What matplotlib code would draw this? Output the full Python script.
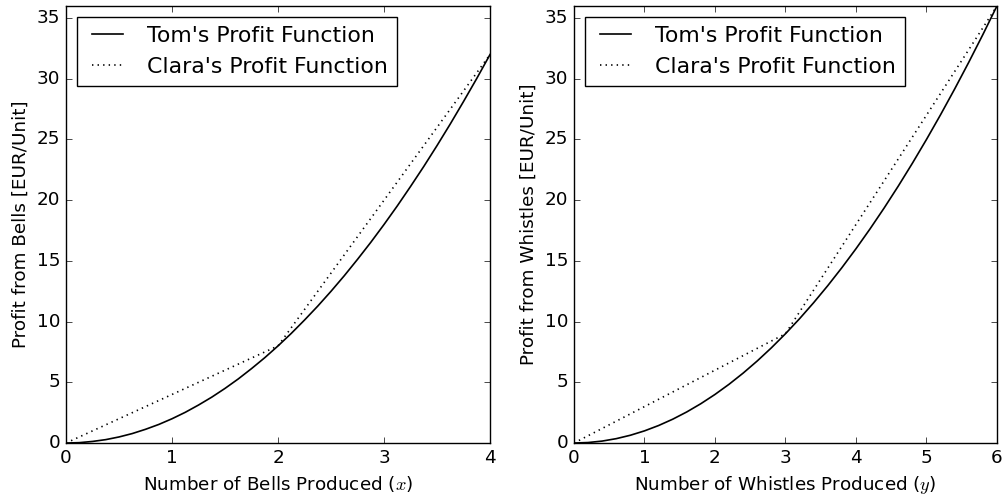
import numpy as np
import matplotlib
matplotlib.use('Agg')
from matplotlib import pyplot as plt
from matplotlib.ticker import MultipleLocator

# Tom's profit from bells
bells_x = [0, 0.125, 0.25, 0.375, 0.5, 0.625, 0.75, 0.875, 1, 1.125, 1.25, 1.375, 1.5, 1.625, 1.75, 1.875, 2,
           2.125, 2.25, 2.375, 2.5, 2.625, 2.75, 2.875, 3, 3.125, 3.25, 3.375, 3.5, 3.625, 3.75, 3.875, 4]
tom_bells = [0, 0.03, 0.13, 0.28, 0.5, 0.78, 1.13, 1.53, 2, 2.53, 3.13, 3.78, 4.5, 5.28, 6.13, 7.03, 8,
             9.03, 10.13, 11.28, 12.5, 13.78, 15.13, 16.53, 18, 19.53, 21.13, 22.78, 24.5, 26.28, 28.13, 30.03, 32]
# Clara's profit from bells (piecewise linear)
clara_bells_x = [0, 2, 4]
clara_bells = [0, 8, 32]

# Tom's profit from whistles
whistles_x = [0, 0.2, 0.4, 0.6, 0.8, 1, 1.2, 1.4, 1.6, 1.8, 2, 2.2, 2.4, 2.6, 2.8, 3,
              3.2, 3.4, 3.6, 3.8, 4, 4.2, 4.4, 4.6, 4.8, 5, 5.2, 5.4, 5.6, 5.8, 6]
tom_whistles = [0, 0.04, 0.16, 0.36, 0.64, 1, 1.44, 1.96, 2.56, 3.24, 4, 4.84, 5.76, 6.76, 7.84, 9,
                10.24, 11.56, 12.96, 14.44, 16, 17.64, 19.36, 21.16, 23.04, 25, 27.04, 29.16, 31.36, 33.64, 36]
clara_whistles_x = [0, 3, 6]
clara_whistles = [0, 9, 36]

plt.style.use('classic')
plt.rcParams['figure.facecolor'] = 'white'
plt.rcParams['savefig.facecolor'] = 'white'
plt.rcParams['font.size'] = 13.2

fig = plt.figure(figsize=(10.05, 4.95), dpi=100)
ax1 = fig.add_axes([0.0657, 0.105, 0.4219, 0.883])
ax2 = fig.add_axes([0.5711, 0.105, 0.4209, 0.883])

ax1.plot(bells_x, tom_bells, 'k-', lw=1.2, label="Tom's Profit Function")
ax1.plot(clara_bells_x, clara_bells, 'k:', lw=1.2, label="Clara's Profit Function")
ax1.set_xlim(0, 4)
ax1.set_ylim(0, 36)
ax1.xaxis.set_major_locator(MultipleLocator(1))
ax1.set_xlabel(r'Number of Bells Produced ($x$)')
ax1.set_ylabel('Profit from Bells [EUR/Unit]')
ax1.legend(loc='upper left')

ax2.plot(whistles_x, tom_whistles, 'k-', lw=1.2, label="Tom's Profit Function")
ax2.plot(clara_whistles_x, clara_whistles, 'k:', lw=1.2, label="Clara's Profit Function")
ax2.set_xlim(0, 6)
ax2.set_ylim(0, 36)
ax2.set_xlabel(r'Number of Whistles Produced ($y$)')
ax2.set_ylabel('Profit from Whistles [EUR/Unit]')
ax2.legend(loc='upper left')

plt.savefig('out.png', dpi=100)
